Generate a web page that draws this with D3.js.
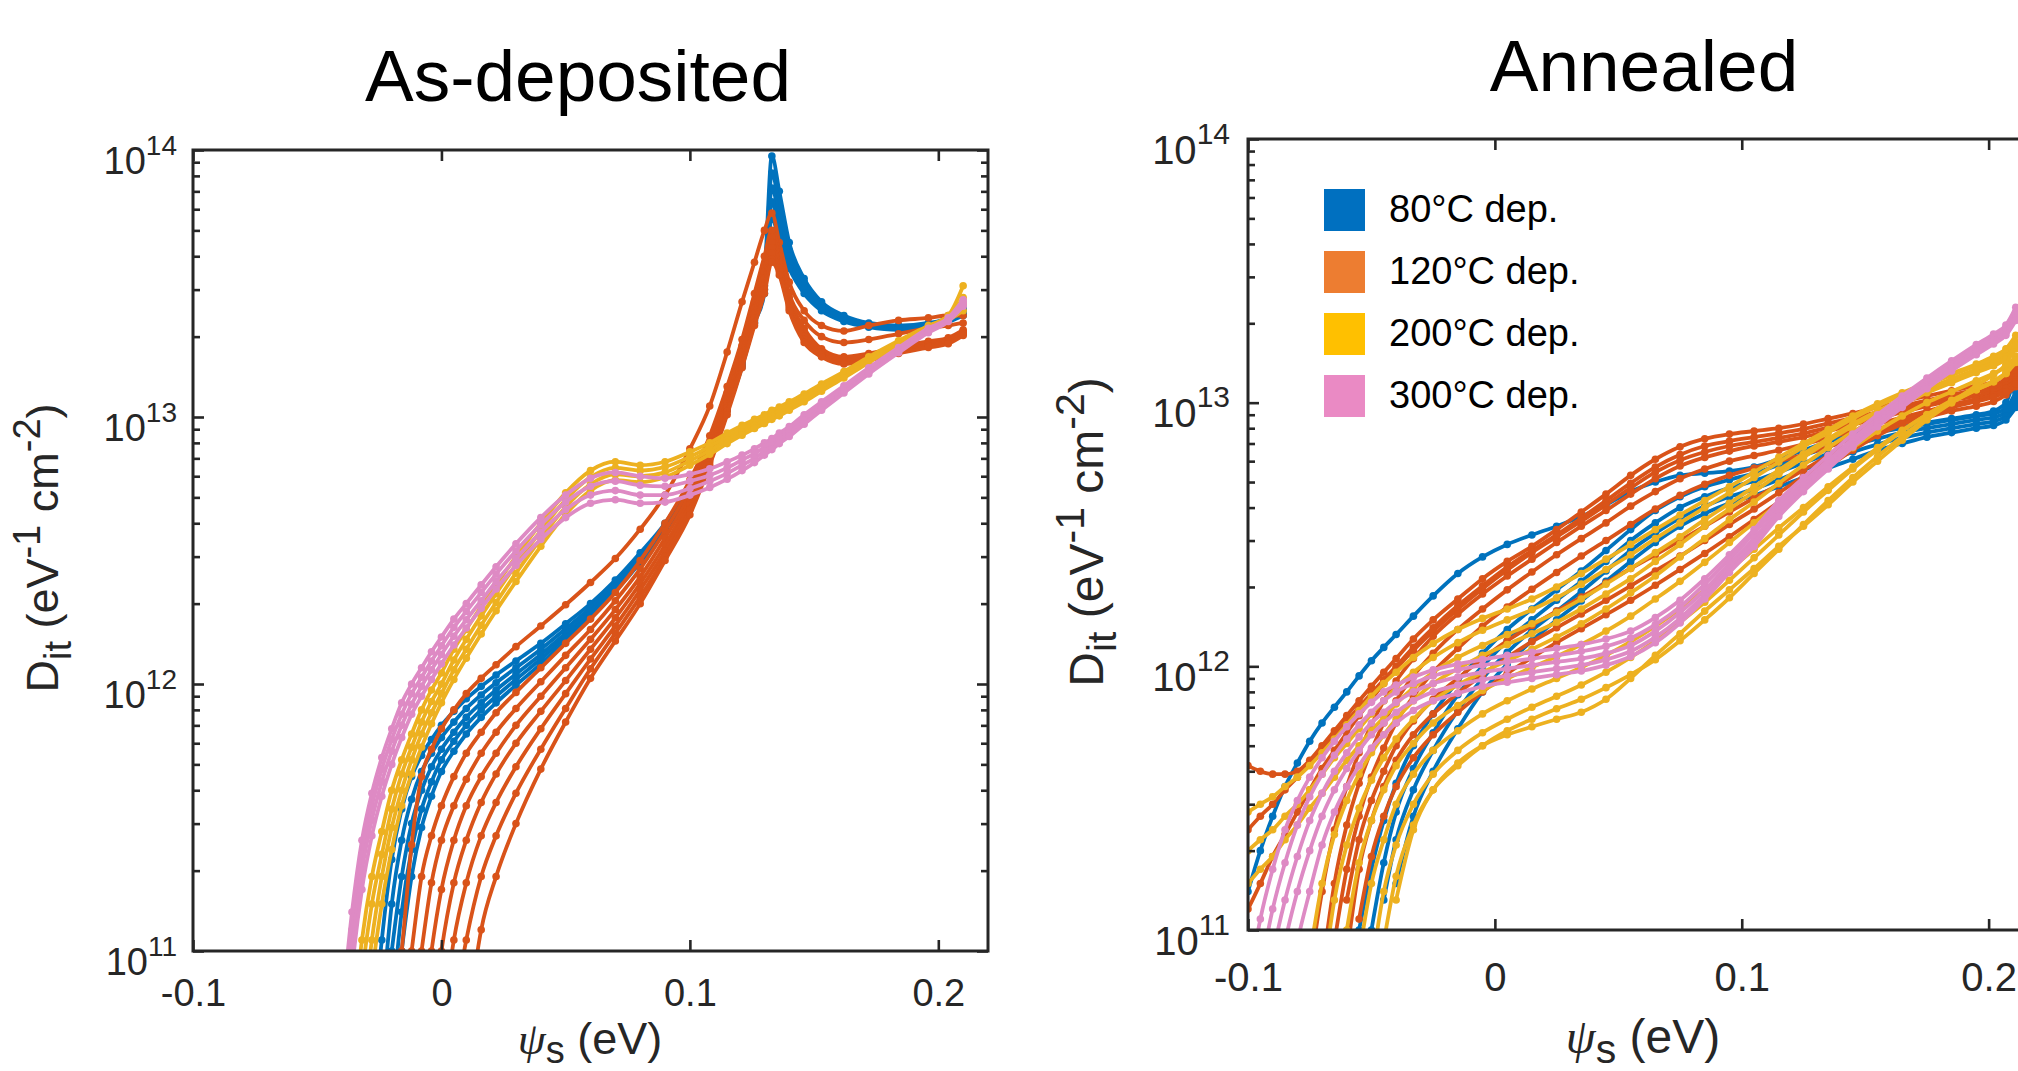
<!DOCTYPE html>
<html>
<head>
<meta charset="utf-8">
<script src="https://cdn.jsdelivr.net/npm/d3@7"></script>
<style>
  body { margin: 0; background: #fff; }
  svg { display: block; }
  text { white-space: pre; }
</style>
</head>
<body>
<svg id="chart" width="2018" height="1071"></svg>
<script>
// ---- data (Dit values in units of 1e12 eV^-1 cm^-2) ----
// curves are right-aligned to the psi grid; missing leading points are below the plot
const panelTitles = ['As-deposited', 'Annealed'];
const legendLabels = ['80°C dep.', '120°C dep.', '200°C dep.', '300°C dep.'];
const lineColors = ['#0072BD', '#D95319', '#EDB120', '#DE8AC4'];
const legendColors = ['#0070C0', '#ED7D31', '#FFC000', '#EA8AC4'];
const xTickValues = [-0.1, 0, 0.1, 0.2];
const yTickValues = [1e11, 1e12, 1e13, 1e14];

const psiAsDep = [
  -0.040, -0.036, -0.032, -0.028, -0.024, -0.020, -0.016, -0.012, -0.008, -0.004,
  0.000, 0.005, 0.010, 0.016, 0.022, 0.030, 0.040, 0.050, 0.060, 0.070,
  0.080, 0.090, 0.100, 0.108, 0.115, 0.121, 0.126, 0.130, 0.133, 0.136,
  0.140, 0.146, 0.153, 0.162, 0.172, 0.184, 0.196, 0.204, 0.210];

const asDep80 = [
  [0.045,0.11,0.22,0.34,0.45,0.54,0.62, 0.70,0.79,0.88,0.98,1.08,1.22,1.42,1.68,2.00,2.45, 3.10,4.00,5.60,7.8,11.5,17,26,35,95,70, 45,33,27,24,22.5,22,22.5,23.5,26],
  [0.06,0.15,0.26,0.37,0.47,0.55, 0.63,0.72,0.81,0.91,1.01,1.15,1.35,1.61,1.93,2.38, 3.02,3.92,5.50,7.6,11.2,16.5,25,33,82,62, 42,32,26.5,23.7,22.3,21.8,22.3,23.3,25.5],
  [0.10,0.19,0.30,0.40,0.49, 0.57,0.66,0.75,0.85,0.95,1.09,1.29,1.55,1.87,2.32, 2.95,3.85,5.40,7.5,11.0,16,24,31,72,56, 40,31,26,23.4,22.1,21.6,22.1,23.1,25],
  [0.06,0.14,0.24,0.34,0.43, 0.52,0.61,0.70,0.80,0.90,1.04,1.24,1.50,1.82,2.27, 2.90,3.80,5.30,7.4,10.8,15.7,23,30,64,50, 38,30,25.5,23.1,21.9,21.4,21.9,22.9,24.5],
  [0.10,0.19,0.29,0.38, 0.47,0.56,0.65,0.75,0.85,0.99,1.19,1.45,1.77,2.22, 2.85,3.75,5.20,7.3,10.6,15.4,22.5,29,56,45, 36,29,25,22.8,21.7,21.2,21.7,22.7,24]
];
const asDep120 = [
  [0.05,0.10,0.25,0.45,0.57, 0.68,0.80,0.92,1.05,1.18,1.38,1.65,1.98,2.40,2.95, 3.80,5.10,7.60,11.0,17.5,27,38,50,58,45, 32,25,22,21,22,23,23.5,24,24],
  [0.05,0.10,0.19,0.27, 0.35,0.45,0.55,0.66,0.78,0.93,1.15,1.42,1.75,2.20, 2.90,4.00,5.80,8.5,13.0,19.5,29,40,50,42, 29,23,20,19,19.5,20.5,21.5,22,22.5],
  [0.05,0.10,0.18, 0.26,0.35,0.44,0.55,0.66,0.81,1.02,1.28,1.60,2.05, 2.70,3.75,5.45,8.0,12.3,18.5,27,37,47,40, 28,21.5,18,16.8,17.3,18.3,19.2,19.8,21.2],
  [0.05,0.10, 0.17,0.26,0.35,0.45,0.55,0.70,0.90,1.15,1.47,1.90, 2.52,3.52,5.15,7.6,11.7,17.5,25.5,35,45,38, 27,21,17.8,16.6,17.1,18.1,19,19.6,21],
  [0.05, 0.10,0.18,0.26,0.36,0.46,0.60,0.79,1.03,1.35,1.77, 2.38,3.32,4.90,7.3,11.2,16.8,24.5,33,43,37, 26.5,20.5,17.5,16.4,16.9,17.9,18.8,19.4,20.8],
  [0.05,0.11,0.18,0.27,0.36,0.49,0.68,0.92,1.24,1.65, 2.25,3.15,4.70,7.0,10.8,16.2,23.5,31,41,36, 26,20,17.2,16.2,16.7,17.7,18.6,19.2,20.6],
  [0.06,0.11,0.19,0.27,0.39,0.57,0.81,1.14,1.55, 2.12,3.00,4.50,6.8,10.5,15.7,22.5,30,39,35, 25.5,19.5,17,16,16.5,17.5,18.4,19,20.4],
  [0.05,0.12,0.19,0.30,0.48,0.72,1.05,1.45, 2.00,2.90,4.30,6.6,10.2,15.3,22,29,38,34, 25,19,16.8,15.8,16.3,17.3,18.2,18.8,20.2]
];
const asDep200 = [
  [0.02,0.05,0.11,0.19,0.28,0.40,0.52,0.65,0.80,0.95, 1.10,1.35,1.60,1.95,2.35,3.00,4.00,5.20,6.30,6.80, 6.60,6.80,7.40,8.00,8.70,9.30,9.80,10.2,10.6,10.9, 11.4,12.2,13.3,14.8,16.8,19.3,22.0,24.0,31.0],
  [0.03,0.08,0.15,0.23,0.34,0.46,0.58,0.72,0.86, 1.00,1.23,1.47,1.80,2.18,2.80,3.75,4.90,5.95,6.45, 6.30,6.50,7.10,7.75,8.45,9.05,9.55,9.95,10.3,10.6, 11.1,11.9,13.0,14.5,16.5,19.0,21.7,23.5,28.0],
  [0.05,0.11,0.19,0.29,0.40,0.52,0.65,0.78, 0.92,1.13,1.35,1.66,2.02,2.60,3.50,4.60,5.60,6.10, 6.00,6.20,6.85,7.50,8.20,8.80,9.30,9.70,10.1,10.4, 10.9,11.7,12.8,14.3,16.3,18.8,21.5,23.2,26.5],
  [0.03,0.08,0.15,0.24,0.35,0.46,0.58,0.71, 0.85,1.04,1.25,1.54,1.88,2.42,3.28,4.32,5.30,5.80, 5.70,5.95,6.60,7.25,7.95,8.55,9.05,9.45,9.8,10.1, 10.6,11.4,12.5,14.0,16.0,18.5,21.2,23.0,25.0]
];
const asDep300 = [
  [0.06,0.14,0.26,0.39,0.53,0.68,0.85,1.00,1.15,1.32, 1.50,1.75,2.00,2.35,2.75,3.35,4.20,5.10,5.90,6.20, 6.00,5.90,6.10,6.40,6.80,7.20,7.60,8.00,8.30,8.70, 9.20,10.2,11.4,13.1,15.3,18.2,21.5,23.5,27.5],
  [0.05,0.12,0.23,0.35,0.48,0.62,0.77,0.92,1.06,1.22, 1.39,1.63,1.87,2.20,2.58,3.15,3.95,4.80,5.50,5.75, 5.55,5.50,5.75,6.05,6.45,6.90,7.30,7.70,8.05,8.45, 8.95,9.9,11.1,12.8,15.0,17.9,21.2,23.2,27.0],
  [0.04,0.10,0.20,0.31,0.43,0.56,0.70,0.84,0.98,1.13, 1.29,1.51,1.74,2.05,2.42,2.95,3.70,4.50,5.10,5.30, 5.10,5.10,5.40,5.75,6.15,6.60,7.00,7.45,7.80,8.20, 8.70,9.7,10.8,12.5,14.7,17.6,20.9,23.0,26.5],
  [0.03,0.085,0.17,0.27,0.38,0.50,0.63,0.77,0.90,1.04, 1.19,1.40,1.62,1.92,2.27,2.78,3.48,4.20,4.75,4.90, 4.75,4.80,5.10,5.45,5.85,6.30,6.75,7.20,7.55,7.95, 8.45,9.4,10.6,12.3,14.5,17.4,20.7,22.8,26.0]
];

const psiAnneal = [
  -0.100, -0.095, -0.090, -0.085, -0.080, -0.075, -0.070, -0.065, -0.060, -0.055,
  -0.050, -0.045, -0.040, -0.033, -0.025, -0.015, -0.005, 0.005, 0.015, 0.025,
  0.035, 0.045, 0.055, 0.065, 0.075, 0.085, 0.095, 0.105, 0.115, 0.125,
  0.135, 0.145, 0.155, 0.165, 0.175, 0.185, 0.195, 0.202, 0.207, 0.211];

const anneal80 = [
  [0.14,0.20,0.27,0.35,0.43,0.52,0.61,0.70,0.80,0.92, 1.05,1.18,1.32,1.55,1.85,2.25,2.60,2.90,3.15,3.40, 3.70,4.10,4.60,5.00,5.30,5.40,5.50,5.70,6.10,6.60, 7.10,7.60,7.90,8.10,8.40,8.70,9.00,9.30,10.0,13.0],
  [0.10,0.17,0.26,0.36,0.50,0.66,0.88,1.12,1.38,1.65, 1.95,2.3,2.75,3.3,3.9,4.4,4.8,5.1,5.4,5.8, 6.3,6.8,7.3,7.7,8.0,8.3,8.6,8.9,9.1,9.5, 11.0],
  [0.10,0.18,0.28,0.41,0.56,0.78,1.0,1.25,1.5,1.78, 2.1,2.5,3.0,3.5,4.0,4.4,4.75,5.05,5.45,5.9, 6.4,6.9,7.3,7.7,8.0,8.3,8.6,8.8,9.2,10.5],
  [0.13,0.22,0.34,0.48,0.68,0.9,1.13,1.37,1.62,1.92, 2.3,2.75,3.2,3.65,4.05,4.4,4.7,5.1,5.55,6.0, 6.5,6.95,7.35,7.7,8.0,8.3,8.5,8.9,10.0],
  [0.15,0.27,0.40,0.58,0.8,1.02,1.25,1.5,1.77,2.1, 2.5,2.95,3.4,3.8,4.15,4.45,4.8,5.2,5.65,6.1, 6.6,7.0,7.4,7.7,8.0,8.2,8.6,9.6]
];
const anneal120 = [
  [0.42,0.40,0.39,0.39,0.40,0.44,0.50,0.57,0.65,0.74, 0.84,0.95,1.07,1.27,1.50,1.80,2.15,2.50,2.85,3.30, 3.85,4.50,5.30,6.10,6.80,7.30,7.60,7.80,8.00,8.30, 8.70,9.10,9.60,10.1,10.6,11.1,11.6,12.0,12.8,14.0],
  [0.24,0.27,0.30,0.34,0.38,0.43,0.49,0.55,0.62,0.70, 0.79,0.89,1.00,1.18,1.40,1.70,2.02,2.38,2.75,3.15, 3.65,4.25,4.95,5.70,6.35,6.85,7.15,7.40,7.65,7.95, 8.35,8.75,9.20,9.70,10.2,10.7,11.2,11.6,12.3,13.5],
  [0.12,0.15,0.19,0.23,0.28,0.34,0.41,0.48,0.56,0.65, 0.75,0.86,0.98,1.15,1.36,1.65,1.97,2.32,2.70,3.10, 3.55,4.10,4.75,5.45,6.05,6.50,6.85,7.10,7.35,7.65, 8.05,8.50,8.95,9.45,9.95,10.4,10.9,11.3,12.0,13.0],
  [0.07,0.14,0.24,0.35,0.47, 0.60,0.74,0.88,1.07,1.30,1.58,1.88,2.20,2.55,2.95, 3.40,3.90,4.50,5.15,5.75,6.20,6.55,6.85,7.10,7.40, 7.80,8.25,8.70,9.20,9.70,10.2,10.6,11.0,11.6,12.5],
  [0.07,0.15,0.25,0.36, 0.48,0.61,0.74,0.92,1.12,1.38,1.65,1.95,2.28,2.65, 3.05,3.50,4.05,4.60,5.15,5.60,6.00,6.30,6.60,6.95, 7.35,7.80,8.30,8.80,9.30,9.80,10.2,10.6,11.2,12.0],
  [0.09,0.17,0.27, 0.38,0.49,0.61,0.77,0.95,1.17,1.42,1.68,1.96,2.27, 2.62,3.00,3.45,3.95,4.45,4.90,5.30,5.65,6.00,6.35, 6.80,7.30,7.80,8.30,8.80,9.30,9.70,10.1,10.7,11.5],
  [0.13,0.22, 0.31,0.40,0.50,0.62,0.75,0.9,1.07,1.25,1.43,1.62, 1.83,2.07,2.35,2.65,3.0,3.4,3.85,4.35,4.9,5.55, 6.3,7.1,7.9,8.6,9.2,9.8,10.3,10.7,11.3,12.2],
  [0.08,0.17, 0.26,0.35,0.44,0.55,0.66,0.79,0.93,1.08,1.24,1.40, 1.58,1.78,2.02,2.30,2.62,3.00,3.45,3.95,4.55,5.25, 6.05,6.90,7.75,8.50,9.15,9.75,10.3,10.7,11.3,12.0],
  [0.11, 0.19,0.27,0.35,0.45,0.55,0.67,0.8,0.94,1.08,1.23, 1.39,1.57,1.78,2.03,2.33,2.68,3.1,3.6,4.2,4.9, 5.7,6.6,7.5,8.3,9.0,9.6,10.1,10.5,11.0,11.8]
];
const anneal200 = [
  [0.28,0.30,0.32,0.35,0.38,0.42,0.47,0.53,0.60,0.68, 0.77,0.86,0.95,1.08,1.22,1.38,1.52,1.65,1.8,2.0, 2.25,2.55,2.9,3.3,3.75,4.25,4.8,5.45,6.2,7.0, 7.9,8.9,9.9,10.9,11.9,12.9,14.0,15.0,16.0,18.0],
  [0.20,0.22,0.24,0.27,0.30,0.34,0.39,0.45,0.51,0.58, 0.66,0.74,0.83,0.95,1.08,1.23,1.37,1.5,1.64,1.82, 2.05,2.33,2.65,3.05,3.5,4.0,4.55,5.2,5.95,6.8, 7.7,8.7,9.7,10.7,11.7,12.7,13.8,14.6,15.5,17.0],
  [0.15,0.17,0.19,0.22,0.25,0.29,0.33,0.38,0.44,0.50, 0.57,0.64,0.72,0.83,0.95,1.08,1.2,1.32,1.45,1.6, 1.8,2.05,2.35,2.7,3.1,3.6,4.15,4.8,5.55,6.4, 7.3,8.3,9.3,10.3,11.3,12.3,13.4,14.2,15.0,16.5],
  [0.08,0.15,0.23,0.31,0.39, 0.47,0.55,0.63,0.74,0.86,0.98,1.1,1.21,1.33,1.47, 1.65,1.88,2.15,2.5,2.9,3.4,3.95,4.6,5.35,6.2, 7.15,8.15,9.15,10.2,11.2,12.2,13.3,14.1,14.9,16.3],
  [0.06,0.13,0.21,0.29, 0.37,0.45,0.53,0.63,0.74,0.85,0.95,1.05,1.16,1.29, 1.45,1.65,1.9,2.2,2.6,3.05,3.6,4.2,4.95,5.8, 6.75,7.75,8.8,9.85,10.9,11.9,13.0,13.8,14.6,16.0],
  [0.10,0.18, 0.26,0.34,0.42,0.51,0.61,0.71,0.81,0.9,0.99,1.09, 1.21,1.36,1.55,1.8,2.1,2.48,2.95,3.5,4.15,4.9, 5.75,6.75,7.8,8.9,10.0,11.0,12.1,12.9,13.7,15.0],
  [0.08, 0.15,0.22,0.30,0.39,0.48,0.57,0.66,0.74,0.82,0.9, 0.99,1.1,1.24,1.42,1.65,1.95,2.32,2.78,3.35,4.0, 4.8,5.7,6.75,7.85,9.0,10.1,11.2,12.0,12.9,14.2],
  [0.07,0.14,0.21,0.30,0.39,0.48,0.56,0.63,0.70,0.77, 0.85,0.95,1.08,1.25,1.47,1.75,2.12,2.58,3.15,3.85, 4.65,5.6,6.65,7.8,9.0,10.2,11.3,12.1,13.0,14.5],
  [0.09,0.16,0.25,0.34,0.42,0.50,0.57,0.63,0.69, 0.75,0.83,0.93,1.06,1.25,1.5,1.82,2.25,2.78,3.45, 4.25,5.2,6.25,7.45,8.75,10.0,11.2,12.0,12.9,14.5],
  [0.13,0.24,0.34,0.43,0.50,0.55,0.59,0.63, 0.67,0.75,0.90,1.10,1.33,1.62,1.95,2.35,2.85,3.4, 4.1,5.0,6.0,7.2,8.6,10.0,11.6,12.8,14.0,16.5]
];
const anneal300 = [
  [0.06,0.11,0.17,0.24,0.31,0.38,0.45,0.52,0.59,0.66, 0.73,0.80,0.85,0.91,0.97,1.02,1.06,1.10,1.13,1.17, 1.21,1.27,1.36,1.53,1.78,2.15,2.65,3.3,4.25,5.2, 6.3,7.6,9.0,10.6,12.4,14.4,16.6,18.2,19.7,23.0],
  [0.04,0.07,0.12,0.18,0.25,0.32,0.39,0.46,0.53,0.60, 0.67,0.74,0.80,0.86,0.92,0.97,1.01,1.04,1.07,1.10, 1.14,1.19,1.28,1.44,1.68,2.05,2.55,3.20,4.10,5.00, 6.05,7.30,8.70,10.3,12.0,14.0,16.2,17.7,19.2,22.0],
  [0.04,0.08,0.13,0.19,0.26,0.33,0.40,0.47,0.54, 0.61,0.67,0.73,0.80,0.86,0.91,0.95,0.98,1.01,1.04, 1.07,1.12,1.20,1.36,1.60,1.95,2.45,3.05,3.95,4.85, 5.90,7.10,8.50,10.0,11.7,13.7,15.8,17.3,18.7,21.5],
  [0.05,0.09,0.14,0.20,0.27,0.34,0.41,0.48, 0.55,0.61,0.67,0.74,0.80,0.85,0.89,0.92,0.95,0.98, 1.01,1.06,1.14,1.29,1.52,1.87,2.35,2.95,3.80,4.70, 5.70,6.90,8.30,9.80,11.5,13.4,15.5,17.0,18.4,21.0],
  [0.05,0.09,0.14,0.21,0.28,0.35,0.42, 0.49,0.55,0.61,0.68,0.74,0.79,0.84,0.87,0.90,0.93, 0.96,1.01,1.09,1.23,1.46,1.80,2.27,2.85,3.70,4.60, 5.60,6.80,8.10,9.60,11.3,13.2,15.2,16.7,18.0,20.5]
];

// ---- drawing ----
const FONT = '"Liberation Sans", Arial, Helvetica, sans-serif';
const INK = '#262626';
const svg = d3.select('#chart');
svg.append('rect').attr('width', 2018).attr('height', 1071).attr('fill', '#fff');
const defs = svg.append('defs');

function alignRight(vals, n) {
  if (vals.length > n) console.warn('curve longer than grid', vals.length, n);
  return Array(Math.max(0, n - vals.length)).fill(null).concat(vals);
}

function drawPanel(cfg) {
  const x = d3.scaleLinear().domain([-0.1, 0.22]).range([cfg.left, cfg.right]);
  const y = d3.scaleLog().domain([1e11, 1e14]).range([cfg.bottom, cfg.top]);
  const g = svg.append('g').attr('font-family', FONT);

  defs.append('clipPath').attr('id', 'clip-' + cfg.id)
    .append('rect')
    .attr('x', cfg.left).attr('y', cfg.top)
    .attr('width', cfg.right - cfg.left).attr('height', cfg.bottom - cfg.top);

  const dataG = g.append('g').attr('clip-path', `url(#clip-${cfg.id})`);
  const line = d3.line()
    .defined(d => d[1] != null)
    .x(d => x(d[0]))
    .y(d => y(d[1] * 1e12))
    .curve(d3.curveMonotoneX);

  cfg.series.forEach((curves, k) => {
    const color = lineColors[k];
    curves.forEach(vals => {
      const pts = alignRight(vals, cfg.psi.length).map((v, i) => [cfg.psi[i], v]);
      dataG.append('path')
        .datum(pts)
        .attr('d', line)
        .attr('fill', 'none')
        .attr('stroke', color)
        .attr('stroke-width', 3.8)
        .attr('stroke-linejoin', 'round');
      dataG.append('g')
        .selectAll('circle')
        .data(pts.filter(d => d[1] != null))
        .join('circle')
        .attr('cx', d => x(d[0]))
        .attr('cy', d => y(d[1] * 1e12))
        .attr('r', 3.8)
        .attr('fill', color);
    });
  });

  // minor ticks for the log axis
  const minor = [];
  for (let e = 11; e < 14; e++) for (let m = 2; m <= 9; m++) minor.push(m * Math.pow(10, e));

  const styleAxis = (sel, fontSize) => {
    sel.attr('font-family', FONT).attr('font-size', fontSize);
    sel.select('.domain').remove();
    sel.selectAll('.tick line').attr('stroke', INK).attr('stroke-width', 2.6);
    sel.selectAll('.tick text').attr('fill', INK);
  };

  const xBottom = g.append('g')
    .attr('transform', `translate(0,${cfg.bottom})`)
    .call(d3.axisBottom(x).tickValues(xTickValues).tickSize(-11).tickSizeOuter(0)
      .tickPadding(cfg.xPad).tickFormat(d => String(d)));
  styleAxis(xBottom, cfg.tickFont);

  const xTop = g.append('g')
    .attr('transform', `translate(0,${cfg.top})`)
    .call(d3.axisTop(x).tickValues(xTickValues).tickSize(-11).tickSizeOuter(0).tickFormat(() => ''));
  styleAxis(xTop, cfg.tickFont);

  const yLeft = g.append('g')
    .attr('transform', `translate(${cfg.left},0)`)
    .call(d3.axisLeft(y).tickValues(yTickValues).tickSize(-11).tickSizeOuter(0).tickPadding(cfg.yPad));
  styleAxis(yLeft, cfg.tickFont);
  yLeft.selectAll('.tick text')
    .text(null)
    .attr('dy', null)
    .attr('y', cfg.yLabDy)
    .each(function (d) {
      const t = d3.select(this);
      t.append('tspan').text('10');
      t.append('tspan').attr('dy', -cfg.supRise).attr('font-size', cfg.supFont)
        .text(Math.round(Math.log10(d)));
    });

  const yLeftMinor = g.append('g')
    .attr('transform', `translate(${cfg.left},0)`)
    .call(d3.axisLeft(y).tickValues(minor).tickSize(-7).tickSizeOuter(0).tickFormat(() => ''));
  styleAxis(yLeftMinor, cfg.tickFont);

  const yRight = g.append('g')
    .attr('transform', `translate(${cfg.right},0)`)
    .call(d3.axisRight(y).tickValues(yTickValues).tickSize(-11).tickSizeOuter(0).tickFormat(() => ''));
  styleAxis(yRight, cfg.tickFont);
  const yRightMinor = g.append('g')
    .attr('transform', `translate(${cfg.right},0)`)
    .call(d3.axisRight(y).tickValues(minor).tickSize(-7).tickSizeOuter(0).tickFormat(() => ''));
  styleAxis(yRightMinor, cfg.tickFont);

  g.append('rect')
    .attr('x', cfg.left).attr('y', cfg.top)
    .attr('width', cfg.right - cfg.left).attr('height', cfg.bottom - cfg.top)
    .attr('fill', 'none').attr('stroke', INK).attr('stroke-width', 3);

  // y axis title
  const yl = g.append('text')
    .attr('transform', `translate(${cfg.ylabX},${cfg.ylabY}) rotate(-90)`)
    .attr('text-anchor', 'middle')
    .attr('font-size', cfg.labFont)
    .attr('fill', INK);
  const small = Math.round(cfg.labFont * 0.85);
  const drop = Math.round(cfg.labFont * 0.28);
  const rise = Math.round(cfg.labFont * 0.4);
  yl.append('tspan').text('D');
  yl.append('tspan').attr('dy', drop).attr('font-size', small).text('it');
  yl.append('tspan').attr('dy', -drop).text(' (eV');
  yl.append('tspan').attr('dy', -rise).attr('font-size', small).text('-1');
  yl.append('tspan').attr('dy', rise).text(' cm');
  yl.append('tspan').attr('dy', -rise).attr('font-size', small).text('-2');
  yl.append('tspan').attr('dy', rise).text(')');

  // x axis title (sits at the bottom edge, as in the figure)
  const xl = g.append('text')
    .attr('x', cfg.xlabX).attr('y', cfg.xlabY)
    .attr('text-anchor', 'middle')
    .attr('font-size', cfg.labFont)
    .attr('fill', INK);
  const xdrop = Math.round(cfg.labFont * 0.2);
  xl.append('tspan').attr('font-family', '"Liberation Serif", "DejaVu Serif", serif')
    .attr('font-style', 'italic').text('ψ');
  xl.append('tspan').attr('dy', xdrop).attr('font-size', small).text('s');
  xl.append('tspan').attr('dy', -xdrop).text(' (eV)');

  // panel title
  g.append('text')
    .attr('x', cfg.titleX).attr('y', cfg.titleY)
    .attr('text-anchor', 'middle')
    .attr('font-size', 73)
    .attr('fill', '#000')
    .text(cfg.title);

  return { x, y, g };
}

drawPanel({
  id: 'asdep', title: panelTitles[0], titleX: 578, titleY: 101,
  left: 193, right: 988, top: 150, bottom: 951,
  psi: psiAsDep, series: [asDep80, asDep120, asDep200, asDep300],
  tickFont: 38, supFont: 28, supRise: 19, yLabDy: 23, xPad: 28, yPad: 16,
  labFont: 45, ylabX: 58, ylabY: 548, xlabX: 590, xlabY: 1054
});

const annealed = drawPanel({
  id: 'anneal', title: panelTitles[1], titleX: 1644, titleY: 91,
  left: 1248, right: 2038, top: 139, bottom: 930,
  psi: psiAnneal, series: [anneal80, anneal120, anneal200, anneal300],
  tickFont: 40, supFont: 30, supRise: 20, yLabDy: 24, xPad: 33, yPad: 18,
  labFont: 48, ylabX: 1103, ylabY: 532, xlabX: 1643, xlabY: 1053
});

// legend (annealed panel)
const leg = annealed.g.append('g').attr('font-family', FONT);
legendLabels.forEach((lab, i) => {
  const top = 189 + i * 62;
  leg.append('rect')
    .attr('x', 1324).attr('y', top)
    .attr('width', 41).attr('height', 42)
    .attr('fill', legendColors[i]);
  leg.append('text')
    .attr('x', 1389).attr('y', top + 33)
    .attr('font-size', 38)
    .attr('fill', '#000')
    .text(lab);
});
</script>
</body>
</html>
